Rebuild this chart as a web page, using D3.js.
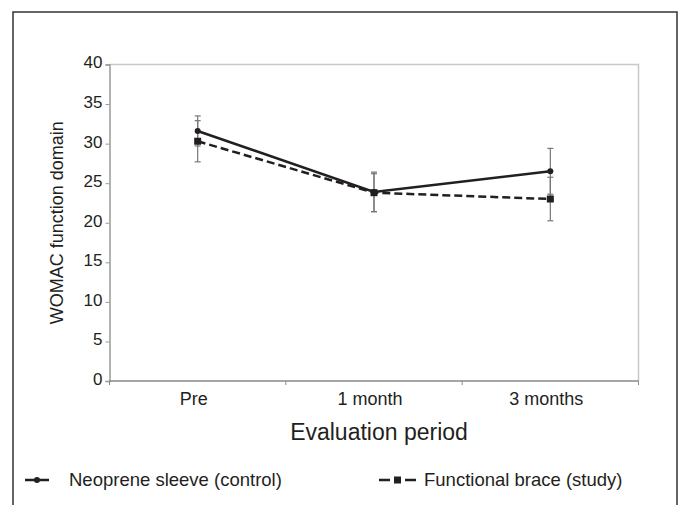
<!DOCTYPE html>
<html>
<head>
<meta charset="utf-8">
<script src="https://cdn.jsdelivr.net/npm/d3@7"></script>
<style>
  body { margin: 0; background: #fff; }
  svg text { font-family: "Liberation Sans", Arial, sans-serif; fill: #231f20; }
</style>
</head>
<body>
<svg id="chart" width="680" height="505"></svg>
<script>
const periods = ["Pre", "1 month", "3 months"];
const yTicks = [0, 5, 10, 15, 20, 25, 30, 35, 40];

// mean and error (half-width)
const sleeveMean = [31.6, 23.9, 26.5];
const sleeveErr = [1.9, 2.5, 2.9];
const braceMean = [30.3, 23.8, 23.0];
const braceErr = [2.6, 2.4, 2.75];

const svg = d3.select("#chart");

// outer frame
svg.append("rect")
  .attr("x", 13).attr("y", 12)
  .attr("width", 664).attr("height", 520)
  .attr("fill", "none")
  .attr("stroke", "#333")
  .attr("stroke-width", 1.5);

const pLeft = 109.5, pRight = 638.5, pTop = 64.5, pBottom = 381;

const x = d3.scaleBand().domain(periods).range([pLeft, pRight]);
const y = d3.scaleLinear().domain([0, 40]).range([pBottom, pTop]);

// plot area border (top + right)
svg.append("path")
  .attr("d", `M${pLeft},${pTop}H${pRight}V${pBottom}`)
  .attr("fill", "none")
  .attr("stroke", "#c8c8c8")
  .attr("stroke-width", 1.5);

// y axis
const yAxis = svg.append("g")
  .attr("transform", `translate(${pLeft},0)`)
  .call(d3.axisLeft(y).tickValues(yTicks).tickSize(4).tickPadding(3));
yAxis.select(".domain").attr("stroke", "#999").attr("stroke-width", 1.5);
yAxis.selectAll(".tick line").attr("stroke", "#999");
yAxis.selectAll("text").style("font-size", "17px").attr("dy", "0.2em");

// x axis: ticks at band edges
const xAxis = svg.append("g")
  .attr("transform", `translate(0,${pBottom})`);
xAxis.append("line")
  .attr("x1", pLeft).attr("x2", pRight)
  .attr("stroke", "#888").attr("stroke-width", 1.5);
xAxis.selectAll(".edge")
  .data([...periods.map(p => x(p)), pRight])
  .join("line")
  .attr("x1", d => d).attr("x2", d => d)
  .attr("y1", 0).attr("y2", 4)
  .attr("stroke", "#888");
xAxis.selectAll(".lab")
  .data(periods)
  .join("text")
  .attr("x", d => x(d) + x.bandwidth() / 2 - 4)
  .attr("y", 24)
  .attr("text-anchor", "middle")
  .style("font-size", "18px")
  .text(d => d);

// axis titles
svg.append("text")
  .attr("transform", `translate(63,${(pTop + pBottom) / 2}) rotate(-90)`)
  .attr("text-anchor", "middle")
  .style("font-size", "18px")
  .text("WOMAC function domain");

svg.append("text")
  .attr("x", 379).attr("y", 440)
  .attr("text-anchor", "middle")
  .style("font-size", "23px")
  .text("Evaluation period");

const cx = p => x(p) + x.bandwidth() / 2;

// error bars
function errorBars(means, errs) {
  const g = svg.append("g").attr("stroke", "#777").attr("stroke-width", 1.2);
  periods.forEach((p, i) => {
    const xc = cx(p), y1 = y(means[i] + errs[i]), y0 = y(means[i] - errs[i]);
    g.append("line").attr("x1", xc).attr("x2", xc).attr("y1", y1).attr("y2", y0);
    g.append("line").attr("x1", xc - 3).attr("x2", xc + 3).attr("y1", y1).attr("y2", y1);
    g.append("line").attr("x1", xc - 3).attr("x2", xc + 3).attr("y1", y0).attr("y2", y0);
  });
}
errorBars(sleeveMean, sleeveErr);
errorBars(braceMean, braceErr);

const line = d3.line().x((d, i) => cx(periods[i])).y(d => y(d));

svg.append("path")
  .datum(braceMean)
  .attr("d", line)
  .attr("fill", "none")
  .attr("stroke", "#231f20")
  .attr("stroke-width", 2.5)
  .attr("stroke-dasharray", "8,4");

svg.append("path")
  .datum(sleeveMean)
  .attr("d", line)
  .attr("fill", "none")
  .attr("stroke", "#231f20")
  .attr("stroke-width", 2.5);

svg.selectAll(".sq")
  .data(braceMean)
  .join("rect")
  .attr("x", (d, i) => cx(periods[i]) - 3.5)
  .attr("y", d => y(d) - 3.5)
  .attr("width", 7).attr("height", 7)
  .attr("fill", "#231f20");

svg.selectAll(".dot")
  .data(sleeveMean)
  .join("circle")
  .attr("cx", (d, i) => cx(periods[i]))
  .attr("cy", d => y(d))
  .attr("r", 3)
  .attr("fill", "#231f20");

// legend
const leg = svg.append("g").attr("transform", "translate(0,480)");
leg.append("line").attr("x1", 25).attr("x2", 49)
  .attr("stroke", "#231f20").attr("stroke-width", 2.5);
leg.append("circle").attr("cx", 37).attr("r", 3).attr("fill", "#231f20");
leg.append("text").attr("x", 69).attr("dy", "0.35em")
  .style("font-size", "18.5px").text("Neoprene sleeve (control)");

leg.append("line").attr("x1", 379).attr("x2", 390)
  .attr("stroke", "#231f20").attr("stroke-width", 2.5);
leg.append("rect").attr("x", 394).attr("y", -3.5).attr("width", 7).attr("height", 7)
  .attr("fill", "#231f20");
leg.append("line").attr("x1", 405).attr("x2", 416)
  .attr("stroke", "#231f20").attr("stroke-width", 2.5);
leg.append("text").attr("x", 424).attr("dy", "0.35em")
  .style("font-size", "18.5px").text("Functional brace (study)");
</script>
</body>
</html>
